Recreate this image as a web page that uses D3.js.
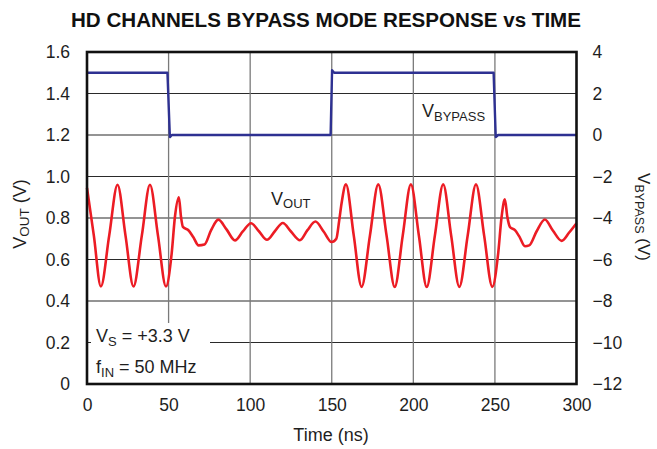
<!DOCTYPE html>
<html>
<head>
<meta charset="utf-8">
<script src="https://cdn.jsdelivr.net/npm/d3@7"></script>
<style>
  html, body { margin: 0; padding: 0; background: #fff; }
  svg { display: block; font-family: "Liberation Sans", Arial, Helvetica, sans-serif; }
</style>
</head>
<body>
<svg id="chart" width="657" height="449"></svg>
<script>
// ---- Data ----
const xTicks = [0, 50, 100, 150, 200, 250, 300];
const leftTicks = [0, 0.2, 0.4, 0.6, 0.8, 1.0, 1.2, 1.4, 1.6];
const rightTicks = [-12, -10, -8, -6, -4, -2, 0, 2, 4];

// V_OUT (left axis, V) vs time (ns)
const voutT = [0, 4.2, 8.5, 13.6, 18.7, 23.6, 28.5, 33.6, 38.6, 43.5, 48.4, 51.9, 53.9, 56.3, 57.6, 58.8, 62.0, 65.0, 68.4, 72.0, 76.0, 80.5, 85.5, 90.7, 95.5, 100.5, 105.5, 110.3, 115.0, 120.0, 125.0, 130.5, 135.0, 140.0, 145.0, 149.9, 152.8, 154.6, 156.0, 158.7, 163.5, 168.3, 173.4, 178.5, 183.6, 188.6, 193.5, 198.5, 203.4, 208.2, 213.2, 218.3, 223.2, 228.2, 233.3, 238.4, 243.4, 248.4, 252.0, 254.1, 256.1, 257.6, 259.2, 262.3, 265.0, 268.4, 271.0, 275.5, 280.6, 285.5, 290.9, 295.5, 300];
const voutV = [0.945, 0.715, 0.47, 0.715, 0.96, 0.715, 0.47, 0.715, 0.96, 0.715, 0.47, 0.63, 0.806, 0.90, 0.806, 0.757, 0.742, 0.71, 0.668, 0.672, 0.74, 0.792, 0.745, 0.692, 0.735, 0.775, 0.735, 0.695, 0.735, 0.776, 0.735, 0.693, 0.74, 0.783, 0.735, 0.684, 0.70, 0.79, 0.87, 0.962, 0.715, 0.468, 0.715, 0.962, 0.715, 0.468, 0.715, 0.962, 0.715, 0.468, 0.715, 0.962, 0.715, 0.468, 0.715, 0.962, 0.715, 0.468, 0.63, 0.806, 0.89, 0.806, 0.757, 0.741, 0.71, 0.664, 0.668, 0.735, 0.793, 0.74, 0.690, 0.73, 0.775];

// V_BYPASS (right axis, V) vs time (ns)
const bypT = [0, 49.3, 50.8, 52.0, 149.3, 150.2, 151.5, 249.2, 250.5, 252.0, 300];
const bypV = [3.0, 3.0, -0.1, 0.0, 0.0, 3.12, 3.0, 3.0, -0.1, 0.0, 0.0];

// ---- Layout ----
const svg = d3.select("#chart");
const L = 87, R = 576.5, T = 52, B = 384;
const x = d3.scaleLinear().domain([0, 300]).range([L, R]);
const yL = d3.scaleLinear().domain([0, 1.6]).range([B, T]);
const yR = d3.scaleLinear().domain([-12, 4]).range([B, T]);
const ink = "#1e1e1e";

// Title
svg.append("text")
  .attr("x", 326).attr("y", 26.5)
  .attr("text-anchor", "middle")
  .attr("font-size", 20).attr("font-weight", "bold")
  .attr("fill", "#111")
  .attr("textLength", 510).attr("lengthAdjust", "spacingAndGlyphs")
  .text("HD CHANNELS BYPASS MODE RESPONSE vs TIME");

// Gridlines
const grid = svg.append("g");
grid.selectAll("line.h").data(leftTicks.filter(d => d > 0 && d < 1.6)).enter()
  .append("line").attr("class", "h")
  .attr("x1", L).attr("x2", R)
  .attr("y1", d => yL(d)).attr("y2", d => yL(d))
  .attr("stroke", "#2a2a2a").attr("stroke-width", 1.1);
grid.selectAll("line.v").data(xTicks.filter(d => d > 0 && d < 300)).enter()
  .append("line").attr("class", "v")
  .attr("x1", d => x(d)).attr("x2", d => x(d))
  .attr("y1", T).attr("y2", B)
  .attr("stroke", "#7a7a7a").attr("stroke-width", 1.3);

// Annotation box
svg.append("rect")
  .attr("x", 91).attr("y", 323).attr("width", 119).attr("height", B - 323)
  .attr("fill", "#fff");
const ann = svg.append("g").attr("font-size", 18).attr("fill", ink);
const a1 = ann.append("text").attr("x", 96).attr("y", 341.5);
a1.append("tspan").text("V");
a1.append("tspan").attr("font-size", 13).attr("dy", 4).text("S");
a1.append("tspan").attr("dy", -4).text(" = +3.3 V");
const a2 = ann.append("text").attr("x", 96).attr("y", 373);
a2.append("tspan").text("f");
a2.append("tspan").attr("font-size", 13).attr("dy", 4).text("IN");
a2.append("tspan").attr("dy", -4).text(" = 50 MHz");

// Lines
const lineOut = d3.line().x(d => x(d[0])).y(d => yL(d[1])).curve(d3.curveMonotoneX);
const lineByp = d3.line().x(d => x(d[0])).y(d => yR(d[1]));
svg.append("path")
  .datum(voutT.map((t, i) => [t, voutV[i]]))
  .attr("d", lineOut).attr("fill", "none")
  .attr("stroke", "#ec1c24").attr("stroke-width", 2.6).attr("stroke-linejoin", "round");
svg.append("path")
  .datum(bypT.map((t, i) => [t, bypV[i]]))
  .attr("d", lineByp).attr("fill", "none")
  .attr("stroke", "#2e3192").attr("stroke-width", 2.4).attr("stroke-linejoin", "round");

// Series labels
const lo = svg.append("text").attr("x", 271).attr("y", 205).attr("font-size", 18).attr("fill", ink);
lo.append("tspan").text("V");
lo.append("tspan").attr("font-size", 13).attr("dy", 3).text("OUT");
const lb = svg.append("text").attr("x", 422).attr("y", 116.5).attr("font-size", 18).attr("fill", ink);
lb.append("tspan").text("V");
lb.append("tspan").attr("font-size", 13).attr("dy", 4.5).text("BYPASS");

// Plot border
svg.append("rect")
  .attr("x", L).attr("y", T).attr("width", R - L).attr("height", B - T)
  .attr("fill", "none").attr("stroke", "#111").attr("stroke-width", 2.6);

// Axes (labels only)
const fmtL = d => d === 0 ? "0" : d3.format(".1f")(d);
const axL = svg.append("g").attr("transform", `translate(${L},0)`)
  .call(d3.axisLeft(yL).tickValues(leftTicks).tickFormat(fmtL).tickSize(0).tickPadding(17));
const axR = svg.append("g").attr("transform", `translate(${R},0)`)
  .call(d3.axisRight(yR).tickValues(rightTicks).tickFormat(d3.format("d")).tickSize(0).tickPadding(16));
const axB = svg.append("g").attr("transform", `translate(0,${B})`)
  .call(d3.axisBottom(x).tickValues(xTicks).tickFormat(d3.format("d")).tickSize(0).tickPadding(15));
[axL, axR, axB].forEach(g => {
  g.select(".domain").remove();
  g.selectAll("text").attr("font-size", 17.5).attr("fill", ink)
    .attr("font-family", "'Liberation Sans', Arial, sans-serif");
});

// Axis titles
svg.append("text").attr("x", 331).attr("y", 441).attr("text-anchor", "middle")
  .attr("font-size", 18).attr("fill", ink).text("Time (ns)");
const lt = svg.append("text").attr("transform", "translate(26,214) rotate(-90)")
  .attr("text-anchor", "middle").attr("font-size", 18).attr("fill", ink);
lt.append("tspan").text("V");
lt.append("tspan").attr("font-size", 13.5).attr("dy", 3).text("OUT");
lt.append("tspan").attr("dy", -3).text(" (V)");
const rt = svg.append("text").attr("transform", "translate(638,217) rotate(90)")
  .attr("text-anchor", "middle").attr("font-size", 17).attr("fill", ink);
rt.append("tspan").text("V");
rt.append("tspan").attr("font-size", 12.5).attr("dy", 3).text("BYPASS");
rt.append("tspan").attr("dy", -3).text(" (V)");
</script>
</body>
</html>
